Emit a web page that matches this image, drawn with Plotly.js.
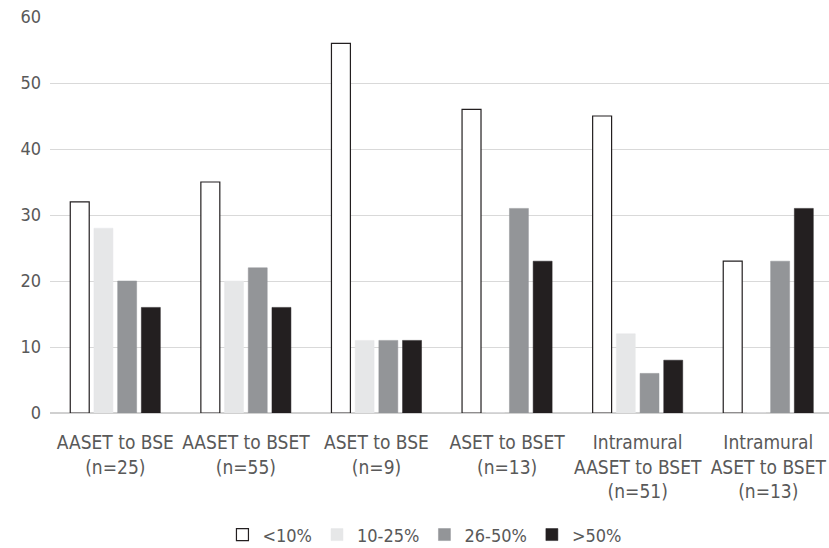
<!DOCTYPE html>
<html>
<head>
<meta charset="utf-8">
<script src="https://cdn.plot.ly/plotly-3.0.1.min.js"></script>
<style>
  html, body { margin: 0; padding: 0; background: #fff; overflow: hidden; }
  #chart { width: 829px; height: 548px; }
</style>
</head>
<body>
<div id="chart"></div>
<script>
// Group labels (two or three lines each)
const categories = [
  "AASET to BSE<br>(n=25)",
  "AASET to BSET<br>(n=55)",
  "ASET to BSE<br>(n=9)",
  "ASET to BSET<br>(n=13)",
  "Intramural<br>AASET to BSET<br>(n=51)",
  "Intramural<br>ASET to BSET<br>(n=13)"
];

// Share of cases per band, in percent
const seriesNames = ["<10%", "10-25%", "26-50%", ">50%"];
const under10 = [32, 35, 56, 46, 45, 23];
const from10to25 = [28, 20, 11, 0, 12, 0];
const from26to50 = [20, 22, 11, 31, 6, 23];
const over50 = [16, 16, 11, 23, 8, 31];

const yTicks = [0, 10, 20, 30, 40, 50, 60];

const fills = ["#ffffff", "#e6e7e8", "#939598", "#231f20"];
const outlines = ["#231f20", "#e6e7e8", "#939598", "#231f20"];
const values = [under10, from10to25, from26to50, over50];

const traces = values.map((v, i) => ({
  type: "bar",
  name: seriesNames[i],
  x: categories,
  y: v,
  marker: { color: fills[i], line: { color: outlines[i], width: i === 0 ? 1.2 : 0.5 } },
  hoverinfo: "skip"
}));

const font = "'DejaVu Sans Condensed', 'Open Sans', sans-serif";
const grey = "#595959";

const layout = {
  width: 829,
  height: 548,
  margin: { l: 50, r: 0, t: 17, b: 135 },
  paper_bgcolor: "#ffffff",
  plot_bgcolor: "#ffffff",
  barmode: "group",
  bargap: 0.274,
  bargroupgap: 0.2,
  font: { family: font, size: 18, color: grey },
  xaxis: {
    type: "category",
    range: [-0.5, 5.465],
    showgrid: false,
    showline: false,
    zeroline: false,
    ticks: "",
    ticklabelstandoff: 16,
    tickfont: { family: font, size: 19, color: grey },
    automargin: false,
    fixedrange: true
  },
  yaxis: {
    range: [0, 60],
    tickvals: yTicks,
    ticktext: yTicks.map(String),
    showgrid: true,
    gridcolor: "#d9d9d9",
    gridwidth: 1,
    zeroline: true,
    zerolinecolor: "#d0d0d0",
    zerolinewidth: 1.5,
    showline: false,
    ticks: "",
    ticklabelstandoff: 8,
    tickfont: { family: font, size: 18, color: grey },
    automargin: false,
    fixedrange: true
  },
  showlegend: true,
  legend: {
    orientation: "h",
    xref: "container",
    yref: "container",
    x: 0.512,
    xanchor: "center",
    y: 0.024,
    yanchor: "middle",
    font: { family: font, size: 18, color: grey },
    itemwidth: 30,
    traceorder: "normal",
    bgcolor: "rgba(0,0,0,0)"
  }
};

Plotly.newPlot("chart", traces, layout, { displayModeBar: false, staticPlot: true });
</script>
</body>
</html>
